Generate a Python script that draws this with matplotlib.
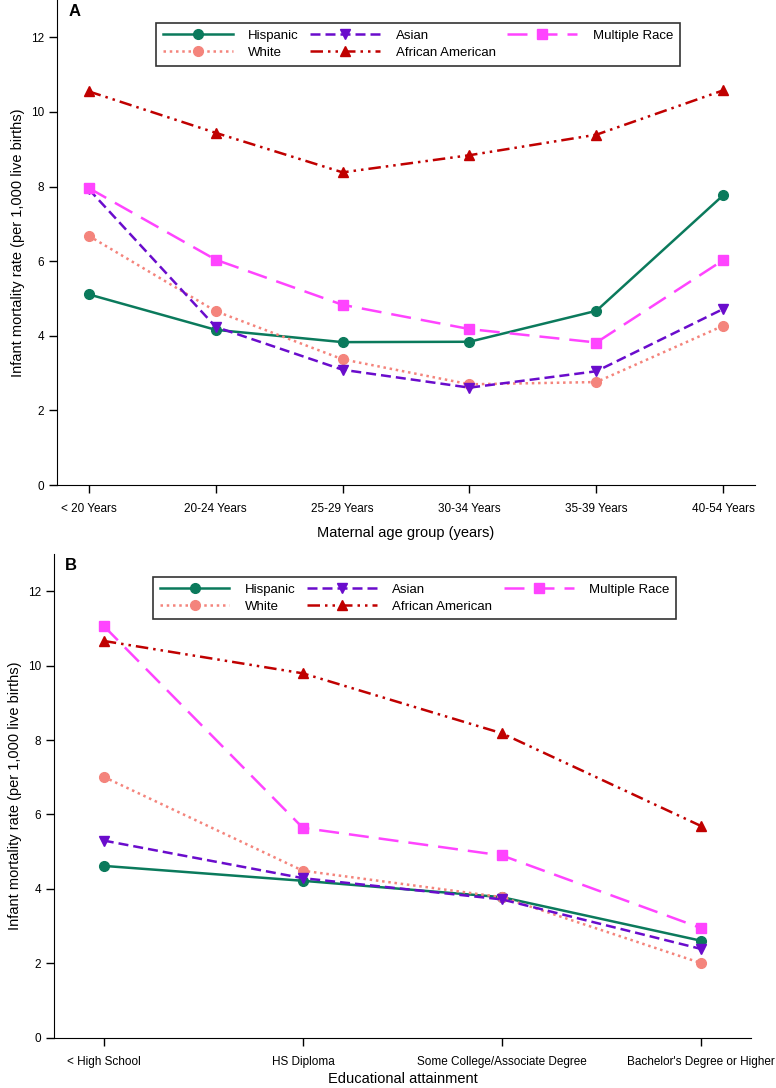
import matplotlib
matplotlib.use("Agg")
import matplotlib.pyplot as plt

plt.rcParams['font.family'] = ['Liberation Sans', 'DejaVu Sans']

# Panel A: maternal age group
age_groups = ["< 20 Years", "20-24 Years", "25-29 Years", "30-34 Years", "35-39 Years", "40-54 Years"]
age_hispanic = [5.11, 4.16, 3.83, 3.84, 4.67, 7.77]
age_white = [6.68, 4.66, 3.37, 2.70, 2.76, 4.27]
age_asian = [7.93, 4.24, 3.09, 2.61, 3.05, 4.72]
age_african = [10.55, 9.44, 8.38, 8.84, 9.39, 10.58]
age_multiple = [7.96, 6.04, 4.83, 4.18, 3.82, 6.03]

# Panel B: educational attainment
edu_groups = ["< High School", "HS Diploma", "Some College/Associate Degree", "Bachelor's Degree or Higher"]
edu_hispanic = [4.62, 4.22, 3.78, 2.61]
edu_white = [7.01, 4.49, 3.78, 2.01]
edu_asian = [5.30, 4.29, 3.72, 2.39]
edu_african = [10.66, 9.79, 8.18, 5.69]
edu_multiple = [11.06, 5.64, 4.90, 2.95]

styles = {
    "Hispanic": dict(color="#0b7a5c", linestyle="-", marker="o"),
    "White": dict(color="#f4847c", linestyle=(0, (1, 1.5)), marker="o"),
    "Asian": dict(color="#6a0ccc", linestyle=(0, (4, 2)), marker="v"),
    "African American": dict(color="#c00000", linestyle=(0, (5, 2, 1, 2, 1, 2)), marker="^"),
    "Multiple Race": dict(color="#ff44ff", linestyle=(0, (8, 4)), marker="s"),
}


def draw_panel(ax, cats, data, xlabel, letter, xpad):
    x = list(range(len(cats)))
    for name, vals in data:
        st = styles[name]
        ax.plot(x, vals, label=name, color=st["color"], linestyle=st["linestyle"],
                marker=st["marker"], markersize=7, linewidth=1.8)
    ax.set_xlim(-0.25, len(cats) - 0.75)
    ax.set_ylim(0, 13)
    ax.set_yticks([0, 2, 4, 6, 8, 10, 12])
    ax.set_xticks(x)
    ax.set_xticklabels(cats)
    ax.spines["top"].set_visible(False)
    ax.spines["right"].set_visible(False)
    ax.tick_params(axis="both", direction="out", length=6, width=1, labelsize=8.5)
    ax.tick_params(axis="x", pad=7)
    ax.set_xlabel(xlabel, fontsize=10.5, labelpad=xpad)
    ax.set_ylabel("Infant mortality rate (per 1,000 live births)", fontsize=10.5)
    ax.text(0.016, 0.992, letter, transform=ax.transAxes, fontsize=12, fontweight="bold",
            va="top", ha="left")
    leg = ax.legend(loc="upper left", bbox_to_anchor=(0.142, 0.952), ncol=3, fontsize=9.5,
                    frameon=True, fancybox=False, edgecolor="black", handlelength=5.3,
                    handletextpad=1.15, columnspacing=0.9, borderpad=0.5, labelspacing=0.35,
                    borderaxespad=0)
    leg.get_frame().set_linewidth(1.2)


fig = plt.figure(figsize=(7.76, 10.88), dpi=100)
ax1 = fig.add_axes([0.0735, 0.5542, 0.8995, 0.4458])
ax2 = fig.add_axes([0.0696, 0.046, 0.898, 0.445])

data_a = [("Hispanic", age_hispanic), ("White", age_white), ("Asian", age_asian),
          ("African American", age_african), ("Multiple Race", age_multiple)]
data_b = [("Hispanic", edu_hispanic), ("White", edu_white), ("Asian", edu_asian),
          ("African American", edu_african), ("Multiple Race", edu_multiple)]

draw_panel(ax1, age_groups, data_a, "Maternal age group (years)", "A", 8)
draw_panel(ax2, edu_groups, data_b, "Educational attainment", "B", 3)

fig.savefig("out.png", dpi=100)
